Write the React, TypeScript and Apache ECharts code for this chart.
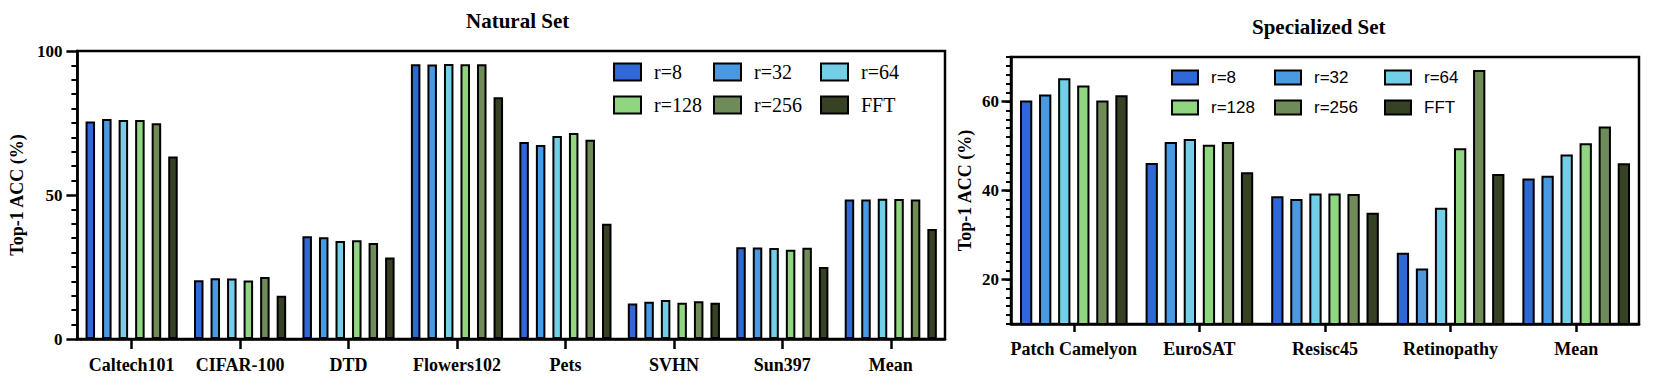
import React, { useEffect, useRef } from 'react';
import * as echarts from 'echarts';

const SERIF = '"Liberation Serif", "Times New Roman", serif';
const SANS = '"Liberation Sans", Arial, sans-serif';

const seriesNames = ['r=8', 'r=32', 'r=64', 'r=128', 'r=256', 'FFT'];
const seriesColors = ['#3068d8', '#4a9ae3', '#73cfe8', '#90d57f', '#6f8b58', '#374124'];

const naturalCategories = ['Caltech101', 'CIFAR-100', 'DTD', 'Flowers102', 'Pets', 'SVHN', 'Sun397', 'Mean'];
const naturalR8 = [75.5, 20.4, 35.7, 95.4, 68.4, 12.3, 31.9, 48.4];
const naturalR32 = [76.4, 21.1, 35.3, 95.3, 67.4, 12.9, 31.8, 48.4];
const naturalR64 = [76.0, 21.0, 34.0, 95.5, 70.5, 13.5, 31.6, 48.7];
const naturalR128 = [76.0, 20.3, 34.3, 95.4, 71.5, 12.6, 31.0, 48.6];
const naturalR256 = [74.9, 21.5, 33.3, 95.4, 69.2, 13.1, 31.7, 48.4];
const naturalFFT = [63.4, 15.0, 28.3, 83.9, 40.0, 12.6, 25.0, 38.2];

const specialCategories = ['Patch Camelyon', 'EuroSAT', 'Resisc45', 'Retinopathy', 'Mean'];
const specialR8 = [60.2, 46.2, 38.7, 26.0, 42.7];
const specialR32 = [61.6, 50.9, 38.1, 22.5, 43.3];
const specialR64 = [65.2, 51.6, 39.3, 36.1, 48.1];
const specialR128 = [63.6, 50.3, 39.3, 49.5, 50.6];
const specialR256 = [60.2, 50.9, 39.2, 67.1, 54.4];
const specialFFT = [61.4, 44.1, 35.0, 43.7, 46.1];

const naturalTicks = [0, 50, 100];
const specialTicks = [20, 40, 60];

const naturalData = [naturalR8, naturalR32, naturalR64, naturalR128, naturalR256, naturalFFT];
const specialData = [specialR8, specialR32, specialR64, specialR128, specialR256, specialFFT];

const axisLine = { show: true, lineStyle: { color: '#000', width: 2.5 } };
const labelFont = { fontFamily: SERIF, fontWeight: 'bold' as const, fontSize: 18, color: '#000' };

export default function App() {
  const ref = useRef<HTMLDivElement>(null);
  useEffect(() => {
    if (!ref.current) return;
    const chart = echarts.init(ref.current, undefined, { renderer: 'svg' });

    const series: any[] = [];
    seriesNames.forEach((name, i) => {
      series.push({
        name,
        type: 'bar',
        xAxisIndex: 0,
        yAxisIndex: 0,
        data: naturalData[i],
        barWidth: 9.5,
        barGap: '74%',
        itemStyle: { color: seriesColors[i], borderColor: '#000', borderWidth: 2 },
      });
    });
    seriesNames.forEach((name, i) => {
      series.push({
        name,
        type: 'bar',
        xAxisIndex: 1,
        yAxisIndex: 1,
        data: specialData[i],
        barWidth: 12.3,
        barGap: '55%',
        itemStyle: { color: seriesColors[i], borderColor: '#000', borderWidth: 2 },
      });
    });

    const legends: any[] = [];
    const leftCols = [613, 713, 820];
    const leftRows = [62, 95];
    const rightCols = [1171, 1274, 1384];
    const rightRows = [69, 99];
    seriesNames.forEach((name, i) => {
      const c = i % 3;
      const r = Math.floor(i / 3);
      legends.push({
        data: [name],
        left: leftCols[c],
        top: leftRows[r],
        padding: 0,
        icon: 'rect',
        itemWidth: 27,
        itemHeight: 17,
        selectedMode: false,
        itemStyle: { borderColor: '#000', borderWidth: 2 },
        textStyle: { fontFamily: SERIF, fontSize: 20, color: '#000', padding: [0, 0, 0, 8] },
      });
      legends.push({
        data: [name],
        left: rightCols[c],
        top: rightRows[r],
        padding: 0,
        icon: 'rect',
        itemWidth: 26,
        itemHeight: 14,
        selectedMode: false,
        itemStyle: { borderColor: '#000', borderWidth: 2 },
        textStyle: { fontFamily: SANS, fontSize: 17, color: '#000', padding: [0, 0, 0, 8] },
      });
    });

    chart.setOption({
      animation: false,
      backgroundColor: '#fff',
      title: [
        {
          text: 'Natural Set',
          left: 466,
          top: 10,
          padding: 0,
          textStyle: { fontFamily: SERIF, fontWeight: 'bold', fontSize: 21, color: '#000' },
        },
        {
          text: 'Specialized Set',
          left: 1252,
          top: 16,
          padding: 0,
          textStyle: { fontFamily: SERIF, fontWeight: 'bold', fontSize: 21, color: '#000' },
        },
      ],
      legend: legends,
      grid: [
        { left: 76, right: 715, top: 51, bottom: 51, show: true, borderColor: '#000', borderWidth: 2.5 },
        { left: 1011, right: 21, top: 57, bottom: 66, show: true, borderColor: '#000', borderWidth: 2.5 },
      ],
      xAxis: [
        {
          type: 'category',
          gridIndex: 0,
          data: naturalCategories,
          axisLine,
          axisTick: { show: true, alignWithLabel: true, interval: 0, length: 10, lineStyle: { color: '#000', width: 2.5 } },
          axisLabel: { ...labelFont, interval: 0, margin: 17 },
        },
        {
          type: 'category',
          gridIndex: 1,
          data: specialCategories,
          axisLine,
          axisTick: { show: true, alignWithLabel: true, interval: 0, length: 8, lineStyle: { color: '#000', width: 2.5 } },
          axisLabel: { ...labelFont, interval: 0, margin: 16 },
        },
      ],
      yAxis: [
        {
          type: 'value',
          gridIndex: 0,
          min: naturalTicks[0],
          max: naturalTicks[2],
          interval: 50,
          position: 'left',
          axisLine,
          axisTick: { show: true, length: 11, lineStyle: { color: '#000', width: 2.5 } },
          minorTick: { show: true, splitNumber: 10, length: 6, lineStyle: { color: '#000', width: 2 } },
          splitLine: { show: false },
          axisLabel: { ...labelFont, fontSize: 17, margin: 15 },
          name: 'Top-1 ACC (%)',
          nameLocation: 'middle',
          nameGap: 49,
          nameTextStyle: { ...labelFont, fontSize: 18 },
        },
        {
          type: 'value',
          gridIndex: 1,
          min: 10,
          max: 70,
          interval: 2,
          position: 'left',
          axisLine,
          axisTick: { show: true, length: 5, lineStyle: { color: '#000', width: 2 } },
          splitLine: { show: false },
          axisLabel: { show: false },
          name: 'Top-1 ACC (%)',
          nameLocation: 'middle',
          nameGap: 37,
          nameTextStyle: { ...labelFont, fontSize: 18 },
        },
        {
          type: 'value',
          gridIndex: 1,
          min: 10,
          max: 70,
          interval: 2,
          position: 'left',
          axisLine: { show: false },
          axisTick: { show: true, length: 9.5, customValues: specialTicks, lineStyle: { color: '#000', width: 2.5 } },
          splitLine: { show: false },
          axisLabel: { ...labelFont, fontSize: 17, margin: 12, customValues: specialTicks },
        },
      ],
      series,
    });

    return () => chart.dispose();
  }, []);

  return (
    <div
      ref={ref}
      style={{ position: 'absolute', left: 0, top: 0, width: 1660, height: 390 }}
    />
  );
}
